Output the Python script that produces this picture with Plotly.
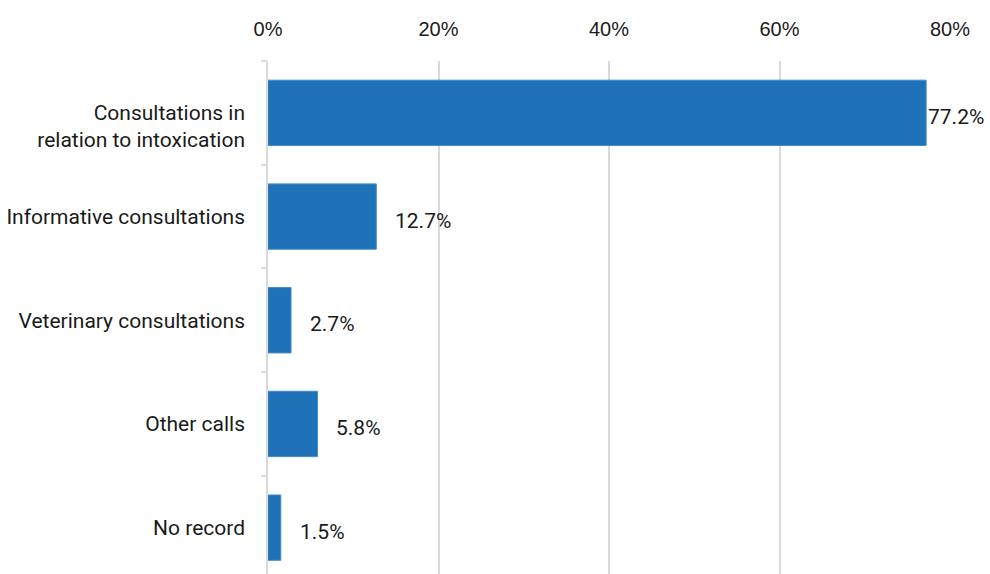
import plotly.graph_objects as go

categories = [
    " <br>Consultations in<br>relation to intoxication",
    "Informative consultations",
    "Veterinary consultations",
    "Other calls",
    "No record",
]
shares = [77.2, 12.7, 2.7, 5.8, 1.5]
share_labels = ["77.2%", "12.7%", "2.7%", "5.8%", "1.5%"]
x_ticks = [0, 20, 40, 60, 80]
x_tick_labels = ["0%", "20%", "40%", "60%", "80%"]

BAR = "#1f72b8"
GRID = "#d9d9d9"
INK = "#1a1a1a"
FONT = "Roboto, Liberation Sans, Arial, sans-serif"

positions = list(range(len(categories)))

fig = go.Figure()
fig.add_trace(go.Bar(
    x=shares,
    y=positions,
    orientation="h",
    width=0.63,
    marker=dict(color=BAR, line=dict(color="#3f8ccc", width=1)),
    hoverinfo="skip",
))

# value labels just past the end of each bar
for i, (v, t) in enumerate(zip(shares, share_labels)):
    fig.add_annotation(
        x=v, y=i, text=t, showarrow=False,
        xanchor="left", yanchor="middle",
        xshift=0 if v > 70 else 17, yshift=-4,
        font=dict(family=FONT, size=21, color=INK),
    )

fig.update_layout(
    width=990, height=574,
    margin=dict(l=268, r=40, t=61, b=0),
    paper_bgcolor="white", plot_bgcolor="white",
    showlegend=False,
    xaxis=dict(
        side="top", range=[0, 80],
        tickvals=x_ticks, ticktext=x_tick_labels,
        showgrid=True, gridcolor=GRID, gridwidth=1.5,
        zeroline=False, showline=False, ticks="",
        ticklabelstandoff=20,
        tickfont=dict(family="Liberation Sans Narrow, Arial Narrow, Liberation Sans, sans-serif", size=20, color=INK),
    ),
    yaxis=dict(
        range=[len(categories) - 0.553, -0.5],
        tickvals=positions, ticktext=categories,
        showgrid=False, zeroline=False,
        showline=True, linecolor=GRID, linewidth=1.5,
        ticks="", ticklabelstandoff=17,
        tickfont=dict(family=FONT, size=21, color=INK),
    ),
    yaxis2=dict(
        overlaying="y", side="left", matches="y",
        tickvals=[p - 0.5 for p in positions] + [len(categories) - 0.5],
        showticklabels=False, showgrid=False, zeroline=False,
        ticks="outside", ticklen=6, tickwidth=1.5, tickcolor=GRID,
        showline=False,
    ),
)
# invisible trace to activate the boundary-tick axis
fig.add_trace(go.Scatter(x=[None], y=[None], yaxis="y2", hoverinfo="skip"))

fig.write_html("out.html")
